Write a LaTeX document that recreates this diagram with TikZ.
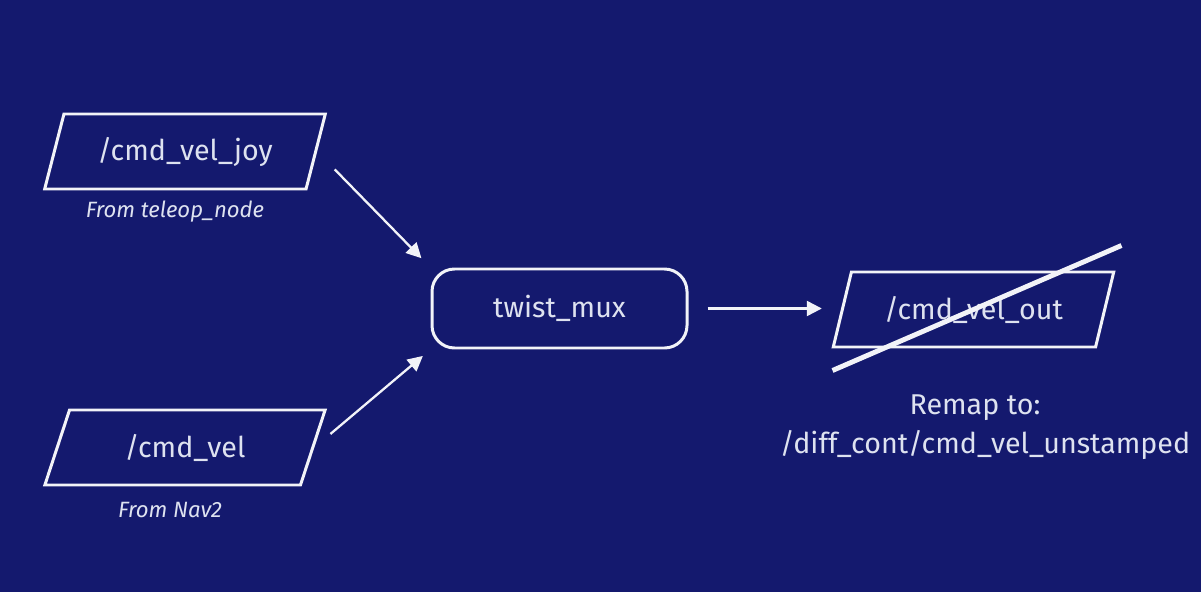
\documentclass[tikz,border=0pt]{standalone}
\usepackage{fontspec}
\setmainfont{Fira Sans}
\usetikzlibrary{shapes.geometric,arrows.meta}
\definecolor{bgblue}{RGB}{20,25,110}
\definecolor{linewhite}{RGB}{242,243,248}
\definecolor{textgrey}{RGB}{222,226,240}

\begin{document}
\begin{tikzpicture}[
        topic/.style={shape=trapezium, trapezium left angle=70, trapezium right angle=110,
            trapezium stretches=true, draw=linewhite, line width=1.7pt, text=textgrey,
            minimum width=5.62cm, minimum height=1.5cm, font=\fontsize{16.3}{19}\selectfont},
        muxbox/.style={shape=rectangle, rounded corners=0.45cm, draw=linewhite, line width=1.7pt,
            text=textgrey, minimum width=5.1cm, minimum height=1.58cm, font=\fontsize{16.3}{19}\selectfont},
        source/.style={text=textgrey, font=\fontsize{12.6}{15}\selectfont\itshape},
        remark/.style={text=textgrey, font=\fontsize{16.3}{19}\selectfont},
        arr/.style={draw=linewhite, line width=1.3pt, -{Triangle[length=0.3cm,width=0.3cm,fill=linewhite]}},
        strike/.style={draw=linewhite, line width=2.8pt}
    ]
        \fill[bgblue] (0,0) rectangle (24.02,-11.84);

        \node[topic] (joy) at (3.70,-3.03) {/cmd\_vel\_joy};
        \node[topic] (vel) at (3.70,-8.95) {/cmd\_vel};
        \node[muxbox] (mux) at (11.19,-6.17) {twist\_mux};
        \node[topic] (out) at (19.47,-6.19) {/cmd\_vel\_out};

        \node[source] (joysrc) at (3.50,-4.24) {From teleop\_node};
        \node[source] (velsrc) at (3.40,-10.20) {From Nav2};

        \node[remark] (remap) at (19.50,-8.16) {Remap to:};
        \node[remark] (unstamped) at (19.70,-8.90) {/diff\_cont/cmd\_vel\_unstamped};

        \draw [arr, shorten <=0.5cm, shorten >=0.26cm] (joy.east) -- (mux.north west);
        \draw [arr, shorten <=0.42cm, shorten >=0.2cm] (vel.east) -- (mux.south west);
        \draw [arr, shorten <=0.38cm, shorten >=0.38cm] (mux.east) -- (mux.east -| out.west);

        \draw [strike] ([shift={(-2.82,-1.22)}]out.center) -- ([shift={(2.96,1.28)}]out.center);
    \end{tikzpicture}
\end{document}
